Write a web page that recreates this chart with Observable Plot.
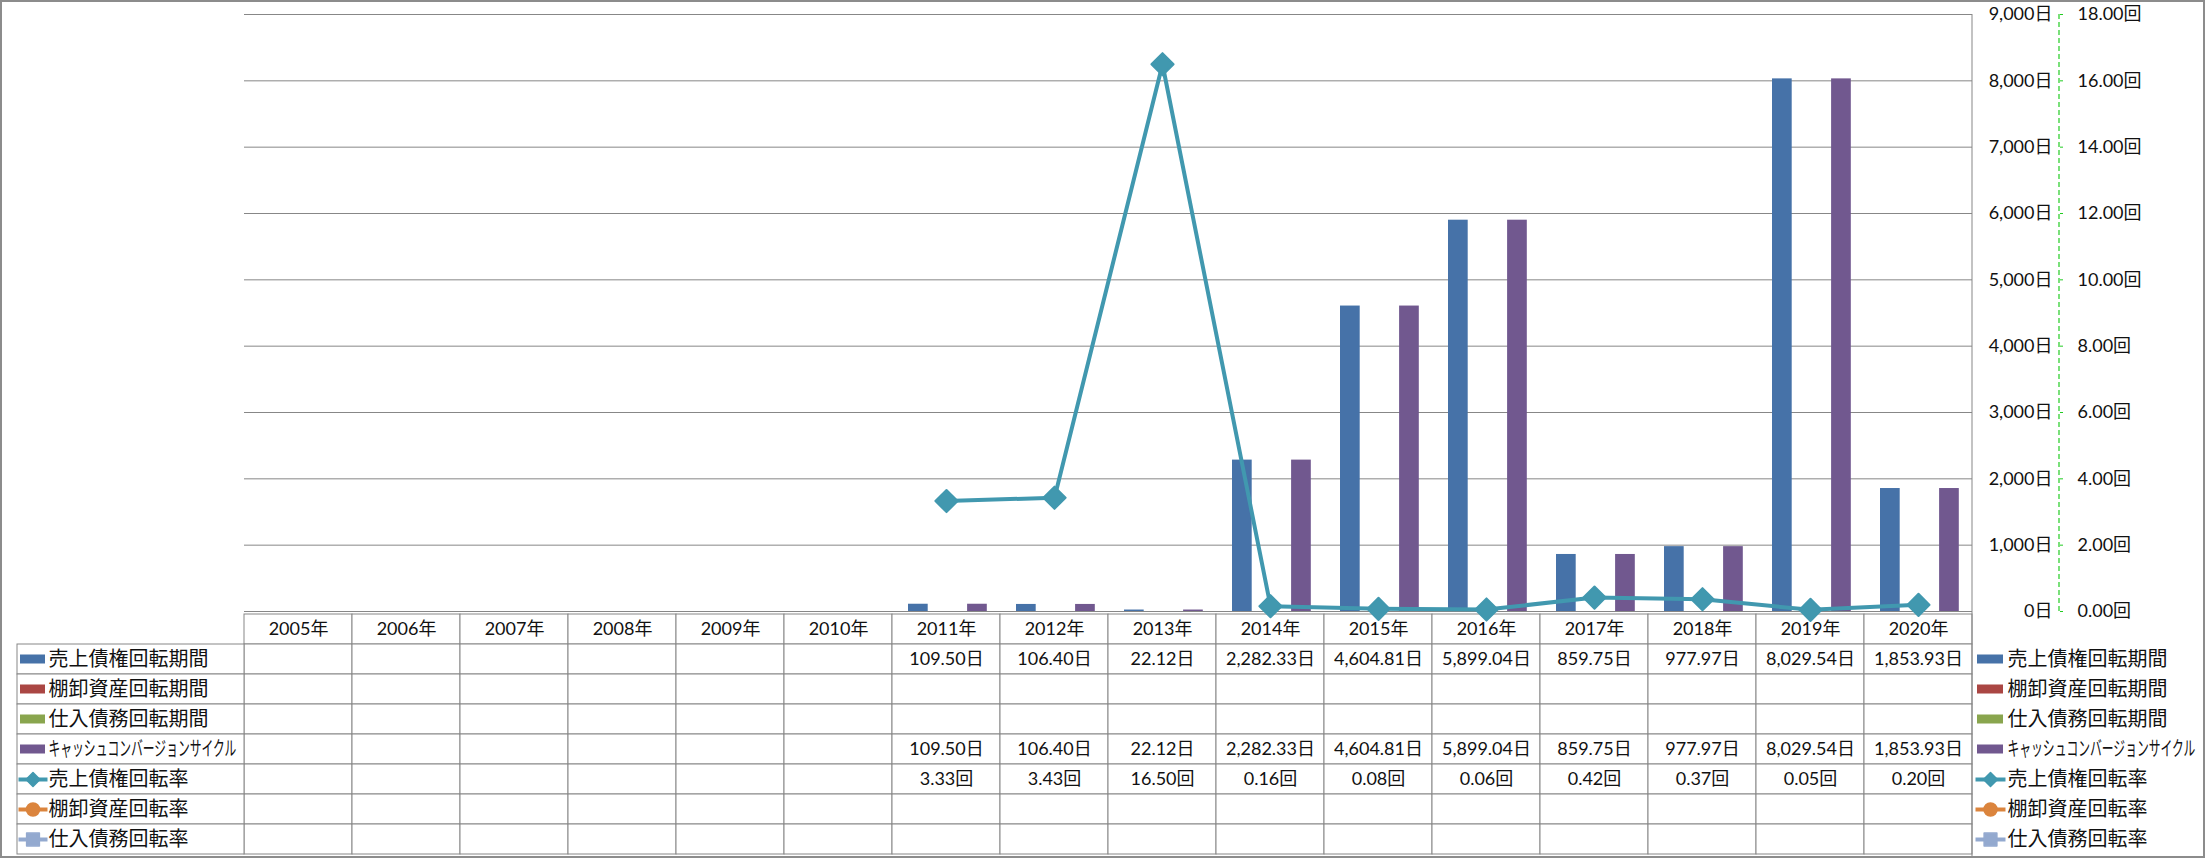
<!DOCTYPE html>
<html><head><meta charset="utf-8">
<script src="https://cdn.jsdelivr.net/npm/d3@7"></script>
<script src="https://cdn.jsdelivr.net/npm/@observablehq/plot@0.6"></script>
<style>
html,body{margin:0;padding:0;background:#fff;}
#wrap{position:relative;width:2205px;height:858px;overflow:hidden;background:#fff;}
#wrap svg{position:absolute;left:0;top:0;max-width:none;}
#border{position:absolute;left:0;top:0;width:2205px;height:858px;box-sizing:border-box;border:2px solid #8c8c8c;pointer-events:none;z-index:10;}
</style></head>
<body><div id="wrap"><div id="border"></div></div>
<script>
// ---------------- data ----------------
const years = ["2005年","2006年","2007年","2008年","2009年","2010年","2011年","2012年","2013年","2014年","2015年","2016年","2017年","2018年","2019年","2020年"];
const arDays  = [null,null,null,null,null,null,109.50,106.40,22.12,2282.33,4604.81,5899.04,859.75,977.97,8029.54,1853.93];
const invDays = [null,null,null,null,null,null,null,null,null,null,null,null,null,null,null,null];
const apDays  = [null,null,null,null,null,null,null,null,null,null,null,null,null,null,null,null];
const cccDays = [null,null,null,null,null,null,109.50,106.40,22.12,2282.33,4604.81,5899.04,859.75,977.97,8029.54,1853.93];
const arTurn  = [null,null,null,null,null,null,3.33,3.43,16.50,0.16,0.08,0.06,0.42,0.37,0.05,0.20];
const invTurn = [null,null,null,null,null,null,null,null,null,null,null,null,null,null,null,null];
const apTurn  = [null,null,null,null,null,null,null,null,null,null,null,null,null,null,null,null];
const dayTicks  = [0,1000,2000,3000,4000,5000,6000,7000,8000,9000];
const rateTicks = [0,2,4,6,8,10,12,14,16,18];
const seriesNames = ["売上債権回転期間","棚卸資産回転期間","仕入債務回転期間","キャッシュコンバージョンサイクル","売上債権回転率","棚卸資産回転率","仕入債務回転率"];
const seriesColors = ["#4672a8","#aa4643","#89a54e","#71588f","#4198af","#db843d","#93a9cf"];
const seriesSymbols = [null,null,null,null,"diamond2","circle","square"];

// ---------------- layout ----------------
const W = 2205, H = 858, ML = 244, MR = 233, MT = 14, MB = 247;
const BAND = (W - ML - MR) / years.length;
const FONT = "Lato, 'Noto Sans CJK JP', sans-serif";
const CJK = "'Noto Sans CJK JP', sans-serif";
const GRID = "#878787";
const valueSets = [arDays, invDays, apDays, cccDays, arTurn, invTurn, apTurn];
const series = seriesNames.map((name, k) => ({
  name, color: seriesColors[k], values: valueSets[k],
  kind: k < 4 ? "bar" : "line", symbol: seriesSymbols[k], unit: k < 4 ? "日" : "回"
}));
const barSeries = series.filter(s => s.kind === "bar");
const lineSeries = series.filter(s => s.kind === "line");
const wrap = document.getElementById("wrap");
const baseStyle = {fontFamily: FONT, fontSize: "18px", color: "#111", background: "transparent", overflow: "visible"};

// ---------------- table (bottom) ----------------
const u = px => (px - ML) / BAND;
const rowKeys = ["hdr", ...seriesNames];
const cells = [];
years.forEach((yr, i) => rowKeys.forEach(r => cells.push({x1: i, x2: i + 1, row: r})));
seriesNames.forEach(r => cells.push({x1: u(17), x2: 0, row: r}));
const texts = [];
years.forEach((yr, i) => texts.push({x: i + 0.5, row: "hdr", t: yr}));
const fmtDay = d3.format(",.2f"), fmtRate = d3.format(".2f");
series.forEach(s => s.values.forEach((v, i) => {
  if (v != null) texts.push({x: i + 0.5, row: s.name, t: (s.unit === "日" ? fmtDay(v) : fmtRate(v)) + s.unit});
}));
function legendMarks(swX1, swX2, textX) {
  const mid = (swX1 + swX2) / 2;
  const m = [
    Plot.barX(barSeries, {x1: u(swX1), x2: u(swX2), y: "name", fill: "color", insetTop: 10.5, insetBottom: 10.5}),
    Plot.link(lineSeries, {x1: u(swX1 - 2), x2: u(swX2 + 2), y1: "name", y2: "name", stroke: "color", strokeWidth: 4})
  ];
  lineSeries.forEach(s => {
    const r = s.symbol === "circle" ? 6.5 : s.symbol === "square" ? 7.2 : 6.3;
    m.push(Plot.dot([s], {x: u(mid), y: "name", symbol: s.symbol, r, fill: s.color, stroke: s.color, strokeWidth: 1.5, strokeLinejoin: "round"}));
  });
  m.push(Plot.text(series, {x: u(textX), y: "name", text: "name", textAnchor: "start", fontFamily: CJK, fontSize: 20, fill: "#111"}));
  return m;
}
const plotC = Plot.plot({
  width: W, height: H, marginLeft: ML, marginRight: MR, marginTop: H - MB, marginBottom: 1,
  style: {...baseStyle, background: "transparent"},
  x: {domain: [0, years.length], axis: null},
  y: {type: "band", domain: rowKeys, padding: 0, axis: null},
  color: {type: "identity"},
  marks: [
    Plot.barX(cells, {x1: "x1", x2: "x2", y: "row", fill: "white", stroke: GRID, strokeWidth: 1}),
    Plot.text(texts, {x: "x", y: "row", text: "t", fontSize: 18, fill: "#111"}),
    ...legendMarks(20, 45, 48),
    ...legendMarks(1977, 2003, 2007)
  ]
});
wrap.appendChild(plotC);

// ---------------- bars (days axis) ----------------
const G0 = 16, SW = 19.7;
const plotA = Plot.plot({
  width: W, height: H, marginLeft: ML, marginRight: MR, marginTop: MT, marginBottom: MB,
  style: baseStyle,
  x: {type: "band", domain: years, padding: 0, axis: null},
  y: {domain: [0, 9000], axis: null},
  marks: [
    Plot.ruleY(dayTicks, {stroke: GRID, strokeWidth: 1}),
    ...barSeries.map((s, k) => Plot.barY(
      years.map((yr, i) => ({year: yr, v: s.values[i]})).filter(d => d.v != null),
      {x: "year", y: "v", fill: s.color, insetLeft: G0 + k * SW, insetRight: BAND - G0 - (k + 1) * SW})),
    Plot.axisY(dayTicks, {anchor: "right", label: null, tickSize: 0, tickPadding: 80, textAnchor: "end",
      tickFormat: d => d3.format(",")(d) + "日", fontSize: 18, fill: "#111"})
  ]
});
wrap.appendChild(plotA);

// ---------------- line (rate axis) ----------------
const lineMarks = [];
lineSeries.forEach(s => {
  const pts = years.map((yr, i) => ({year: yr, v: s.values[i]})).filter(d => d.v != null);
  if (!pts.length) return;
  lineMarks.push(Plot.line(pts, {x: "year", y: "v", stroke: s.color, strokeWidth: 4}));
  lineMarks.push(Plot.dot(pts, {x: "year", y: "v", symbol: s.symbol, r: 10, fill: s.color, stroke: s.color, strokeWidth: 2, strokeLinejoin: "round"}));
});
const AX2 = 87;
const plotB = Plot.plot({
  width: W, height: H, marginLeft: ML, marginRight: MR, marginTop: MT, marginBottom: MB,
  style: baseStyle,
  x: {type: "band", domain: years, padding: 0, axis: null},
  y: {domain: [0, 18], axis: null},
  marks: [
    ...lineMarks,
    Plot.axisY(rateTicks, {anchor: "right", label: null, tickSize: 3, dx: AX2, tickPadding: 15, stroke: "#22cc22",
      tickFormat: d => d3.format(".2f")(d) + "回", fontSize: 18, fill: "#111"})
  ]
});
wrap.appendChild(plotB);
const sb = d3.select(plotB);
sb.append("line").attr("x1", W - MR + AX2).attr("x2", W - MR + AX2).attr("y1", MT).attr("y2", H - MB)
  .attr("stroke", "#22cc22").attr("stroke-width", 1.2).attr("stroke-dasharray", "5,3");
sb.append("line").attr("x1", W - MR).attr("x2", W - MR).attr("y1", MT).attr("y2", H)
  .attr("stroke", GRID).attr("stroke-width", 1);

// compress the long katakana label horizontally like the original (narrow glyphs)
d3.select(plotC).selectAll("text").filter(function () { return this.textContent === "キャッシュコンバージョンサイクル"; })
  .each(function () {
    const t = d3.select(this);
    const tr = t.attr("transform") || "";
    const x = +(t.attr("x") || 0);
    t.attr("transform", `${tr} translate(${x},0) scale(0.59,1) translate(${-x},0)`);
  });
</script>
</body></html>
